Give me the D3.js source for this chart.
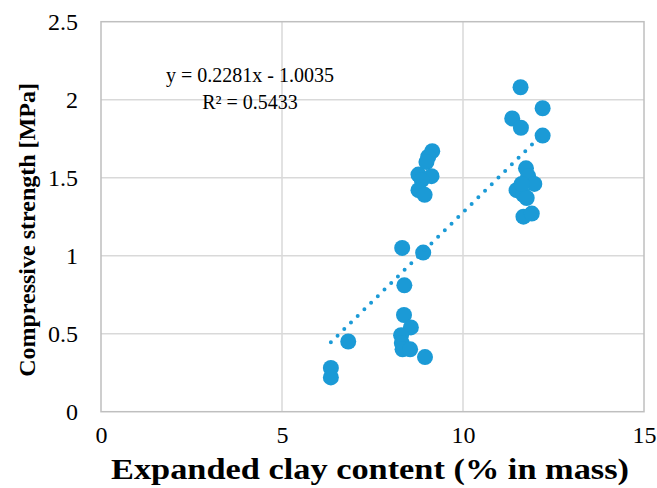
<!DOCTYPE html>
<html>
<head>
<meta charset="utf-8">
<script src="https://cdn.jsdelivr.net/npm/d3@7.9.0/dist/d3.min.js"></script>
<style>
  html, body { margin: 0; padding: 0; background: #fff; }
  text { font-family: "Liberation Serif", "Times New Roman", serif; fill: #000; }
</style>
</head>
<body>
<svg id="chart" width="657" height="488"></svg>
<script>
// data
const clayContent = [
  6.35, 6.35, 6.83,
  8.32, 8.90, 8.38, 8.37, 8.56, 8.29, 8.31, 8.33, 8.54, 8.95,
  9.15, 9.04, 8.99, 8.77, 9.13, 8.86, 8.77, 8.94,
  11.59, 12.20, 11.36, 11.60, 12.20,
  11.74, 11.80, 11.97, 11.48, 11.67, 11.76, 11.62, 11.67, 11.90
];
const strength = [
  0.28, 0.22, 0.45,
  1.05, 1.02, 0.81, 0.62, 0.54, 0.49, 0.44, 0.40, 0.40, 0.35,
  1.67, 1.635, 1.60, 1.52, 1.51, 1.485, 1.42, 1.39,
  2.08, 1.945, 1.88, 1.82, 1.77,
  1.56, 1.51, 1.46, 1.42, 1.39, 1.37, 1.46, 1.25, 1.27
];
const xTicks = [0, 5, 10, 15];
const yTicks = [0, 0.5, 1, 1.5, 2, 2.5];
const slope = 0.2281, intercept = -1.0035;
const equationLines = ['y = 0.2281x - 1.0035', 'R² = 0.5433'];

const svg = d3.select('#chart');
const blue = '#1b9ad6';
const gridColor = '#d9d9d9';

const x = d3.scaleLinear().domain([0, 15]).range([101, 644]);
const y = d3.scaleLinear().domain([0, 2.5]).range([411.7, 21.7]);

// grid
svg.append('g').selectAll('line').data(xTicks.slice(1, -1)).join('line')
  .attr('x1', d => x(d)).attr('x2', d => x(d))
  .attr('y1', y(0)).attr('y2', y(2.5))
  .attr('stroke', gridColor).attr('stroke-width', 1.5);
svg.append('g').selectAll('line').data(yTicks.slice(1, -1)).join('line')
  .attr('x1', x(0)).attr('x2', x(15))
  .attr('y1', d => y(d)).attr('y2', d => y(d))
  .attr('stroke', gridColor).attr('stroke-width', 1.5);

// plot border
svg.append('rect')
  .attr('x', x(0)).attr('y', y(2.5))
  .attr('width', x(15) - x(0)).attr('height', y(0) - y(2.5))
  .attr('fill', 'none').attr('stroke', '#bfbfbf').attr('stroke-width', 1.5);

// axes (labels only)
const xAxis = svg.append('g')
  .attr('transform', `translate(0,${y(0)})`)
  .call(d3.axisBottom(x).tickValues(xTicks).tickSize(0).tickPadding(14).tickFormat(d3.format('d')));
const yAxis = svg.append('g')
  .attr('transform', `translate(${x(0)},0)`)
  .call(d3.axisLeft(y).tickValues(yTicks).tickSize(0).tickPadding(23).tickFormat(d => d));
[xAxis, yAxis].forEach(g => {
  g.select('.domain').remove();
  g.selectAll('text').style('font-family', '"Liberation Serif", serif').style('font-size', '24px').attr('fill', '#000');
});
xAxis.selectAll('text').attr('dy', '0.71em');

// points
svg.append('g').selectAll('circle').data(clayContent).join('circle')
  .attr('cx', d => x(d))
  .attr('cy', (d, i) => y(strength[i]))
  .attr('r', 8)
  .attr('fill', blue);

// trend line
const [xMin, xMax] = d3.extent(clayContent);
svg.append('path')
  .datum([xMin, xMax])
  .attr('d', d3.line().x(d => x(d)).y(d => y(slope * d + intercept)))
  .attr('stroke', blue).attr('stroke-width', 4)
  .attr('stroke-linecap', 'round').attr('stroke-dasharray', '0 9.4')
  .attr('fill', 'none');

// equation
const eq = svg.append('text')
  .attr('x', 250).attr('y', 82)
  .attr('text-anchor', 'middle')
  .style('font-size', '20px');
equationLines.forEach((t, i) => {
  eq.append('tspan').attr('x', 250).attr('dy', i === 0 ? 0 : 27).text(t);
});

// axis titles
svg.append('text')
  .attr('x', 370).attr('y', 479)
  .attr('text-anchor', 'middle')
  .attr('textLength', 518).attr('lengthAdjust', 'spacingAndGlyphs')
  .style('font-size', '29px').style('font-weight', 'bold')
  .text('Expanded clay content (% in mass)');
svg.append('text')
  .attr('transform', 'translate(35,230) rotate(-90)')
  .attr('text-anchor', 'middle')
  .style('font-size', '24px').style('font-weight', 'bold')
  .text('Compressive strength [MPa]');
</script>
</body>
</html>
